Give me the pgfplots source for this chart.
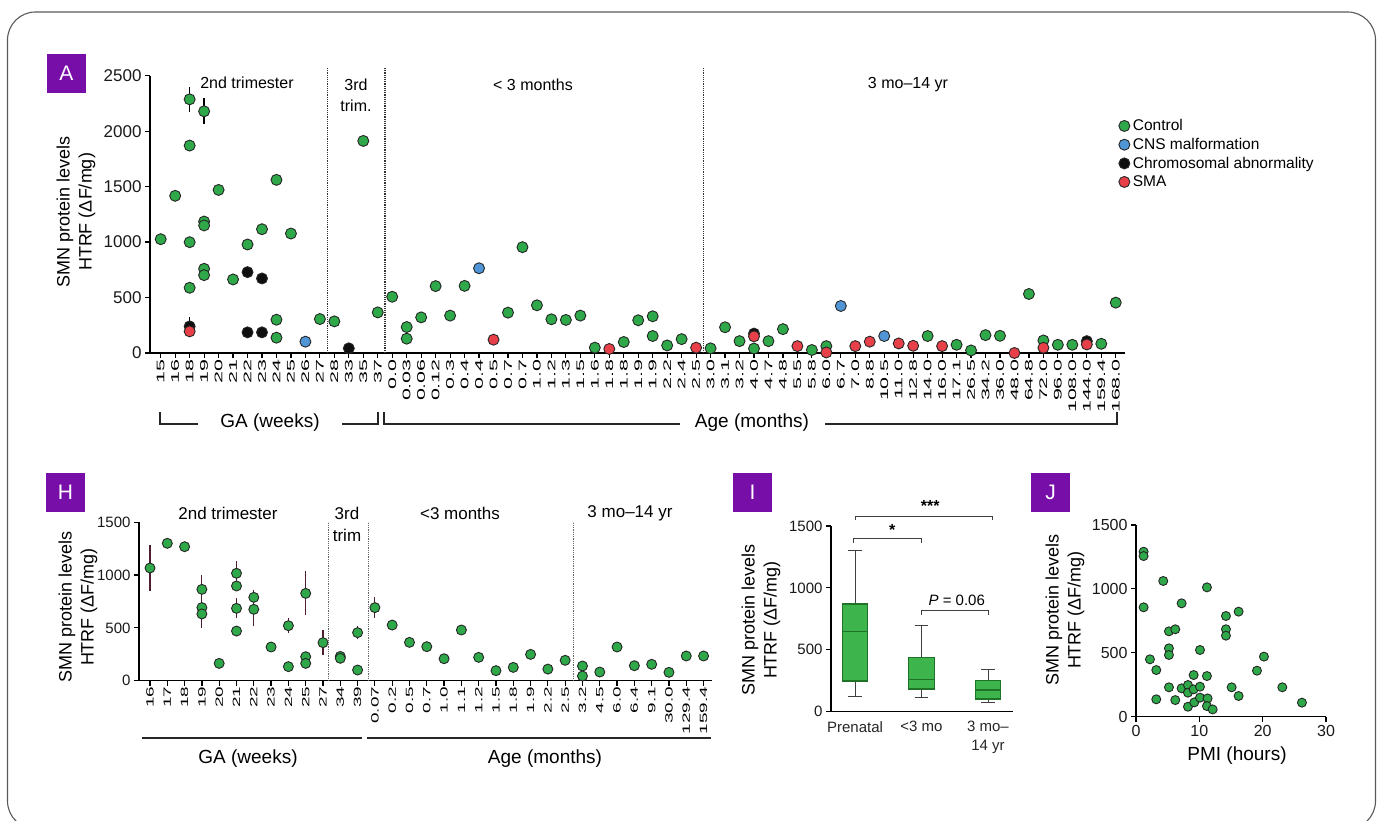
\documentclass[border=0pt]{standalone}
\usepackage{fontspec}
\setmainfont{Liberation Sans}
\usepackage{graphicx}
\usepackage{pgfplots}
\pgfplotsset{compat=1.18}
\usepgfplotslibrary{statistics}
\definecolor{cgreen}{RGB}{46,168,72}
\definecolor{cblue}{RGB}{80,150,215}
\definecolor{cred}{RGB}{232,64,72}
\definecolor{cblack}{RGB}{15,15,15}
\definecolor{cpurple}{RGB}{120,14,168}
\definecolor{cerr}{RGB}{80,30,50}
\definecolor{cbox}{RGB}{62,180,76}
\definecolor{cboxd}{RGB}{30,115,40}
\newcommand\fs[2]{\fontsize{#1}{#2}\selectfont}
\newcommand\sa[1]{\scalebox{1.95}[1]{#1}}
\newcommand\sh[1]{\scalebox{1.8}[1]{#1}}
\pgfplotsset{
  gstyle/.style={axis lines=left, axis line style={-, line width=1.4pt},
    tick align=outside, major tick length=5pt, tick style={black, line width=1.2pt},
    /pgf/number format/assume math mode=true, /pgf/number format/1000 sep={}},
  dot/.style={only marks, mark=*, mark size=#1, mark options={draw=black!85, line width=0.9pt}},
}
\begin{document}
\begin{tikzpicture}
\useasboundingbox (0pt,0pt) rectangle (1383pt,821pt);
\draw[black!65, line width=1.1pt, rounded corners=28pt] (7.5pt,-8pt) rectangle (1375.5pt,809pt);

% panel letters
\fill[cpurple] (47pt,728pt) rectangle (86pt,767pt);
\node[white, font=\fs{21}{24}] at (66.5pt,747.5pt) {A};
\fill[cpurple] (46pt,309pt) rectangle (85pt,348pt);
\node[white, font=\fs{21}{24}] at (65.5pt,328.5pt) {H};
\fill[cpurple] (733pt,309pt) rectangle (772pt,348pt);
\node[white, font=\fs{21}{24}] at (752.5pt,328.5pt) {I};
\fill[cpurple] (1031pt,309pt) rectangle (1070pt,348pt);
\node[white, font=\fs{21}{24}] at (1050.5pt,328.5pt) {J};

% ================= Panel A =================
\begin{axis}[gstyle,
  at={(150pt,468pt)}, anchor=south west, scale only axis, width=975pt, height=277.3pt,
  xmin=-0.74, xmax=66.64, ymin=0, ymax=2500, clip=false,
  ytick={0,500,1000,1500,2000,2500}, xtick={0,...,66},
  xticklabels={\sa{15},\sa{16},\sa{18},\sa{19},\sa{20},\sa{21},\sa{22},\sa{23},\sa{24},\sa{25},\sa{26},\sa{27},\sa{28},\sa{33},\sa{35},\sa{37},\sa{0.0},\sa{0.03},\sa{0.06},\sa{0.12},\sa{0.3},\sa{0.4},\sa{0.4},\sa{0.5},\sa{0.7},\sa{0.7},\sa{1.0},\sa{1.2},\sa{1.3},\sa{1.5},\sa{1.6},\sa{1.8},\sa{1.8},\sa{1.9},\sa{1.9},\sa{2.2},\sa{2.4},\sa{2.5},\sa{3.0},\sa{3.1},\sa{3.2},\sa{4.0},\sa{4.7},\sa{4.8},\sa{5.5},\sa{5.8},\sa{6.0},\sa{6.7},\sa{7.0},\sa{8.8},\sa{10.5},\sa{11.0},\sa{12.8},\sa{14.0},\sa{16.0},\sa{17.1},\sa{26.5},\sa{34.2},\sa{36.0},\sa{48.0},\sa{64.8},\sa{72.0},\sa{96.0},\sa{108.0},\sa{144.0},\sa{159.4},\sa{168.0}},
  xticklabel style={rotate=90, anchor=east, font=\fs{11}{11}, inner sep=1pt, black},
  yticklabel style={font=\fs{17}{17}, black!90},
  legend style={at={(0.9935,0.846)}, anchor=north west, draw=none, fill=none,
    font=\fs{15.5}{16}, inner sep=0pt, row sep=4pt, legend cell align=left,
    nodes={inner xsep=3pt, inner ysep=1pt}},
  legend image code/.code={\draw[#1] plot coordinates {(4pt,0pt)};},
]
\draw[densely dotted, line width=1.2pt, black!80] (axis cs:11.5,0) -- (axis cs:11.5,2572);
\draw[densely dotted, line width=1.2pt, black!80] (axis cs:15.5,0) -- (axis cs:15.5,2572);
\draw[densely dotted, line width=1.2pt, black!80] (axis cs:37.5,0) -- (axis cs:37.5,2572);
\addplot[only marks, mark=none, black, forget plot, error bars/.cd, y dir=both, y explicit,
  error bar style={line width=1.4pt}, error mark options={mark size=3.5pt, line width=1.4pt}]
  coordinates {(2,2287) +- (0,80) (3,2179) +- (0,87) (2,240) +- (0,55)};
\addplot[dot=5.5pt, fill=cgreen, draw=black!85] coordinates {
(0,1026) (1,1417) (2,2287) (2,1870) (2,999) (2,588) (3,2179) (3,1185) (3,1150) (3,759) (3,702)
(4,1470) (5,663) (6,978) (7,1116) (8,1561) (8,300) (8,138) (9,1077) (11,306) (12,285) (14,1912)
(15,366) (16,507) (17,234) (17,129) (18,321) (19,603) (20,337) (21,605) (24,364) (25,954)
(26,430) (27,304) (28,298) (29,337) (30,48) (32,99) (33,295) (34,331) (34,153) (35,68) (36,125)
(38,42) (39,232) (40,107) (41,40) (42,107) (43,215) (45,27) (46,62) (53,153) (55,74) (56,23)
(57,161) (58,155) (60,532) (61,113) (62,74) (63,74) (65,83) (66,454)};
\addlegendentry{Control}
\addplot[dot=5.5pt, fill=cblue, draw=black!85] coordinates {(10,102) (22,764) (47,424) (50,153)};
\addlegendentry{CNS malformation}
\addplot[dot=5.5pt, fill=cblack, draw=black] coordinates {(2,240) (6,729) (6,186) (7,186) (7,672) (13,42) (41,175) (64,107)};
\addlegendentry{Chromosomal abnormality}
\addplot[dot=5.5pt, fill=cred, draw=black!85] coordinates {(2,195) (23,120) (31,36) (37,48) (41,150) (44,62) (46,5) (48,62) (49,102) (51,86) (52,65) (54,62) (59,0) (61,47) (64,77)};
\addlegendentry{SMA}
\end{axis}

\node[font=\fs{16}{18}] at (247pt,738pt) {2nd trimester};
\node[font=\fs{16}{21}, align=center] at (356pt,725.5pt) {3rd\\trim.};
\node[font=\fs{16}{18}] at (533pt,736pt) {< 3 months};
\node[font=\fs{16}{18}] at (908pt,736pt) {3 mo–14 yr};
\node[rotate=90, align=center, font=\fs{18}{22}] at (76pt,609pt) {SMN protein levels\\HTRF (ΔF/mg)};
\draw[line width=2pt, black!85] (160pt,409pt) -- (160pt,397pt) -- (198pt,397pt);
\draw[line width=2pt, black!85] (342pt,397pt) -- (378pt,397pt) -- (378pt,409pt);
\draw[line width=2pt, black!85] (384pt,409pt) -- (384pt,397pt) -- (680pt,397pt);
\draw[line width=2pt, black!85] (825pt,397pt) -- (1117pt,397pt) -- (1117pt,409pt);
\node[font=\fs{19}{22}] at (270pt,398pt) {GA (weeks)};
\node[font=\fs{19}{22}] at (752pt,398pt) {Age (months)};

% ================= Panel H =================
\begin{axis}[gstyle,
  at={(139pt,140.3pt)}, anchor=south west, scale only axis, width=572.7pt, height=158.4pt,
  xmin=-0.636, xmax=32.47, ymin=0, ymax=1500, clip=false,
  ytick={0,500,1000,1500}, xtick={0,...,32},
  xticklabels={\sh{16},\sh{17},\sh{18},\sh{19},\sh{20},\sh{21},\sh{22},\sh{23},\sh{24},\sh{25},\sh{27},\sh{34},\sh{39},\sh{0.07},\sh{0.2},\sh{0.5},\sh{0.7},\sh{1.0},\sh{1.1},\sh{1.2},\sh{1.5},\sh{1.8},\sh{1.9},\sh{2.2},\sh{2.5},\sh{3.2},\sh{4.5},\sh{6.0},\sh{6.4},\sh{9.1},\sh{30.0},\sh{129.4},\sh{159.4}},
  xticklabel style={rotate=90, anchor=east, font=\fs{10.5}{10.5}, inner sep=1pt, black},
  yticklabel style={font=\fs{15}{15}, black!90},
]
\draw[densely dotted, line width=0.8pt, black!60] (axis cs:10.3,0) -- (axis cs:10.3,1500);
\draw[densely dotted, line width=0.8pt, black!60] (axis cs:12.6,0) -- (axis cs:12.6,1500);
\draw[densely dotted, line width=0.8pt, black!60] (axis cs:24.5,0) -- (axis cs:24.5,1500);
\addplot[only marks, mark=none, cerr, error bars/.cd, y dir=both, y explicit,
  error bar style={line width=1.1pt}, error mark options={mark size=2.5pt, line width=1.1pt}]
  coordinates {(0,1067) +- (0,197) (3,865) +- (0,115) (3,632) +- (0,110) (5,1017) +- (0,90)
  (5,685) +- (0,70) (6,789) +- (0,45) (6,676) +- (0,135) (8,521) +- (0,50) (9,827) +- (0,185)
  (10,360) +- (0,95) (12,455) +- (0,40) (13,692) +- (0,75)};
\addplot[dot=5pt, fill=cgreen, draw=black!85] coordinates {
(0,1067) (1,1301) (2,1269) (3,865) (3,692) (3,632) (4,164) (5,1017) (5,897) (5,685) (5,470)
(6,789) (6,676) (7,319) (8,521) (8,133) (9,827) (9,227) (9,164) (10,360) (11,230) (11,212)
(12,455) (12,101) (13,692) (14,527) (15,363) (16,322) (17,208) (18,480) (19,221) (20,95)
(21,126) (22,249) (23,110) (24,193) (25,139) (25,44) (26,82) (27,319) (28,142) (29,155)
(30,79) (31,234) (32,234)};
\end{axis}

\node[font=\fs{17}{18}] at (228pt,308pt) {2nd trimester};
\node[font=\fs{17}{22}, align=center] at (347pt,297pt) {3rd\\trim};
\node[font=\fs{17}{18}] at (460pt,308pt) {<3 months};
\node[font=\fs{17}{18}] at (630pt,308pt) {3 mo–14 yr};
\node[rotate=90, align=center, font=\fs{18}{22}] at (78pt,214pt) {SMN protein levels\\HTRF (ΔF/mg)};
\draw[line width=2pt, black!85] (142pt,83pt) -- (362pt,83pt);
\draw[line width=2pt, black!85] (367pt,83pt) -- (711pt,83pt);
\node[font=\fs{19}{22}] at (248pt,62pt) {GA (weeks)};
\node[font=\fs{19}{22}] at (545pt,62pt) {Age (months)};

% ================= Panel I =================
\begin{axis}[gstyle,
  at={(831pt,109.3pt)}, anchor=south west, scale only axis, width=182pt, height=185.7pt,
  xmin=0.639, xmax=3.376, ymin=0, ymax=1500, clip=false,
  ytick={0,500,1000,1500}, xtick={1,2,3},
  xticklabels={Prenatal, <3 mo, {3 mo–\\14 yr}},
  x tick style={draw=none},
  xticklabel style={align=center, font=\fs{15}{19}, black!85, yshift=-1pt},
  yticklabel style={font=\fs{15}{15}, black!90},
  boxplot/draw direction=y,
  boxplot/every whisker/.style={black!75, line width=1pt},
  boxplot/every median/.style={cboxd, line width=1.3pt},
  boxplot/every box/.style={draw=cboxd, fill=cbox, line width=1.2pt},
]
\addplot[boxplot prepared={median=646, upper quartile=870, lower quartile=248,
  upper whisker=1301, lower whisker=124, draw position=1, box extend=0.38, whisker extend=0.2}]
  coordinates {};
\addplot[boxplot prepared={median=261, upper quartile=439, lower quartile=183,
  upper whisker=700, lower whisker=118, draw position=2, box extend=0.38, whisker extend=0.2}]
  coordinates {};
\addplot[boxplot prepared={median=175, upper quartile=250, lower quartile=102,
  upper whisker=337, lower whisker=73, draw position=3, box extend=0.38, whisker extend=0.2}]
  coordinates {};
\draw[line width=1pt, black!75] (axis cs:1,1545) -- (axis cs:1,1576) -- (axis cs:3.07,1576) -- (axis cs:3.07,1545);
\node[font=\bfseries\fs{16}{18}] at (axis cs:2.13,1660) {***};
\draw[line width=1pt, black!75] (axis cs:0.97,1365) -- (axis cs:0.97,1400) -- (axis cs:2,1400) -- (axis cs:2,1365);
\node[font=\bfseries\fs{16}{18}] at (axis cs:1.56,1468) {*};
\draw[line width=1pt, black!75] (axis cs:2,780) -- (axis cs:2,816) -- (axis cs:3,816) -- (axis cs:3,780);
\node[font=\fs{15}{18}] at (axis cs:2.53,900) {\textit{P} = 0.06};
\end{axis}
\node[rotate=90, align=center, font=\fs{18}{22}] at (761pt,201pt) {SMN protein levels\\HTRF (ΔF/mg)};

% ================= Panel J =================
\begin{axis}[gstyle,
  at={(1136pt,104.3pt)}, anchor=south west, scale only axis, width=190pt, height=191.7pt,
  xmin=0, xmax=30, ymin=0, ymax=1500, clip=false,
  ytick={0,500,1000,1500}, xtick={0,10,20,30},
  xticklabel style={font=\fs{16}{16}, black!90},
  yticklabel style={font=\fs{16}{16}, black!90},
]
\addplot[dot=4.5pt, fill=cgreen, draw=black!80!green] coordinates {
(1.2,1291) (1.2,1257) (1.2,856) (4.3,1062) (2.2,449) (3.2,365) (3.2,136) (5.2,668) (6.2,684)
(5.2,535) (5.2,483) (5.2,230) (6.2,130) (7.2,887) (7.2,222) (8.2,248) (8.2,188) (8.2,78)
(9.1,326) (9.1,214) (9.2,112) (10.1,522) (10.1,235) (10.1,149) (11.2,1012) (11.2,318)
(11.3,143) (11.2,83) (12.1,57) (14.2,788) (14.2,684) (14.2,634) (16.2,822) (15.1,230)
(16.2,162) (19.1,360) (20.2,470) (23.1,230) (26.2,110)};
\end{axis}
\node[rotate=90, align=center, font=\fs{18}{22}] at (1065pt,211pt) {SMN protein levels\\HTRF (ΔF/mg)};
\node[font=\fs{19}{22}] at (1237pt,65pt) {PMI (hours)};
\end{tikzpicture}
\end{document}
